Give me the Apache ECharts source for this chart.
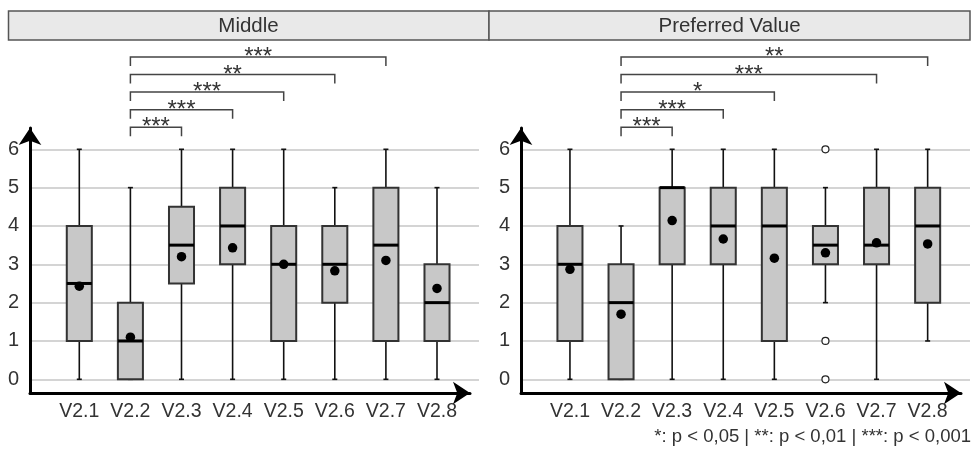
<!DOCTYPE html>
<html>
<head>
<meta charset="utf-8">
<script src="https://cdn.jsdelivr.net/npm/echarts@6/dist/echarts.min.js"></script>
<style>
html,body{margin:0;padding:0;background:#fff;}
#chart{width:974px;height:450px;}
</style>
</head>
<body>
<div id="chart"></div>
<script>
// ---- data ----
const categories = ['V2.1','V2.2','V2.3','V2.4','V2.5','V2.6','V2.7','V2.8'];
const yTicks = [0,1,2,3,4,5,6];
const panelTitles = ['Middle','Preferred Value'];

// [min, Q1, median, Q3, max]
const middleBox = [[0,1,2.5,4,6],[0,0,1,2,5],[0,2.5,3.5,4.5,6],[0,3,4,5,6],[0,1,3,4,6],[0,2,3,4,5],[0,1,3.5,5,6],[0,1,2,3,5]];
const middleMean = [2.43,1.10,3.20,3.43,3.00,2.83,3.10,2.37];
const middleOutliers = [];
// [fromIndex, toIndex, label]
const middleSig = [[1,2,'***'],[1,3,'***'],[1,4,'***'],[1,5,'**'],[1,6,'***']];

const prefBox = [[0,1,3,4,6],[0,0,2,3,4],[0,3,5,5,6],[0,3,4,5,6],[0,1,4,5,6],[2,3,3.5,4,5],[0,3,3.5,5,6],[1,2,4,5,6]];
const prefMean = [2.87,1.70,4.14,3.66,3.16,3.30,3.56,3.53];
const prefOutliers = [[5,6],[5,1],[5,0]];
const prefSig = [[1,2,'***'],[1,3,'***'],[1,4,'*'],[1,6,'***'],[1,7,'**']];

const footnote = '*: p < 0,05 | **: p < 0,01 | ***: p < 0,001';

// ---- layout ----
const FONT = 'Liberation Sans, Arial, sans-serif';
const TXT = '#333';
const plotTop = 149.3, plotH = 230;
const panels = [
  {dataLeft:53.75, bgLeft:30, axisRight:470, box:middleBox, mean:middleMean, out:middleOutliers, sig:middleSig},
  {dataLeft:544.4, bgLeft:521, axisRight:961, box:prefBox, mean:prefMean, out:prefOutliers, sig:prefSig}
];

const grid = [], xAxis = [], yAxis = [], series = [];

function renderBox(params, api){
  const x = api.value(0);
  const cx = api.coord([x, 0])[0];
  const yMin = api.coord([x, api.value(1)])[1];
  const yQ1 = api.coord([x, api.value(2)])[1];
  const yMed = api.coord([x, api.value(3)])[1];
  const yQ3 = api.coord([x, api.value(4)])[1];
  const yMax = api.coord([x, api.value(5)])[1];
  const bw = api.size([1, 0])[0] * 0.49;
  const cap = 2.5;
  const ws = {stroke:'#111', lineWidth:1.6};
  return {type:'group', children:[
    {type:'line', shape:{x1:cx,y1:yMax,x2:cx,y2:yQ3}, style:ws},
    {type:'line', shape:{x1:cx,y1:yQ1,x2:cx,y2:yMin}, style:ws},
    {type:'line', shape:{x1:cx-cap,y1:yMax,x2:cx+cap,y2:yMax}, style:ws},
    {type:'line', shape:{x1:cx-cap,y1:yMin,x2:cx+cap,y2:yMin}, style:ws},
    {type:'rect', shape:{x:cx-bw/2, y:yQ3, width:bw, height:yQ1-yQ3}, style:{fill:'#c8c8c8', stroke:'#333', lineWidth:2}},
    {type:'line', shape:{x1:cx-bw/2,y1:yMed,x2:cx+bw/2,y2:yMed}, style:{stroke:'#000', lineWidth:3}}
  ]};
}

function makeSigRenderer(sig){
  return function(params, api){
    const from = api.value(0), to = api.value(1), level = api.value(2);
    const p1 = api.coord([from, 6]);
    const p2 = api.coord([to, 6]);
    const y = p1[1] - 22 - level * 17.6;
    const st = {stroke:'#444', lineWidth:1.5, fill:null};
    return {type:'group', children:[
      {type:'polyline', shape:{points:[[p1[0], y+9],[p1[0], y],[p2[0], y],[p2[0], y+9]]}, style:st},
      {type:'text', x:(p1[0]+p2[0])/2, y:y+0.5, style:{text:sig[params.dataIndex][2], align:'center', verticalAlign:'middle', fontSize:24, fontFamily:FONT, fill:TXT}}
    ]};
  };
}

panels.forEach((p, i) => {
  const g = i * 3;
  grid.push({left:p.dataLeft, top:plotTop, width:408.8, height:plotH});
  grid.push({left:p.bgLeft, top:plotTop, width:449, height:plotH});
  grid.push({left:p.bgLeft, top:128, width:p.axisRight - p.bgLeft, height:265});

  xAxis.push({gridIndex:g, type:'category', data:categories, boundaryGap:true,
    axisLine:{show:false}, axisTick:{show:false},
    axisLabel:{interval:0, hideOverlap:false, fontSize:19.5, fontFamily:FONT, color:TXT, margin:22}});
  yAxis.push({gridIndex:g, type:'value', min:0, max:6, interval:1, show:false});

  xAxis.push({gridIndex:g+1, type:'value', show:false, min:0, max:1});
  yAxis.push({gridIndex:g+1, type:'value', min:0, max:6, interval:1,
    axisLine:{show:false}, axisTick:{show:false},
    axisLabel:{fontSize:20, fontFamily:FONT, color:TXT, margin:11,
      formatter: v => yTicks.indexOf(v) >= 0 ? String(v) : ''},
    splitLine:{show:true, lineStyle:{color:'#c6c6c6', width:1.5}}});

  xAxis.push({gridIndex:g+2, type:'value', min:0, max:1,
    axisLine:{show:true, onZero:false, symbol:['none','arrow'], symbolSize:[17,17], lineStyle:{color:'#000', width:3}},
    axisTick:{show:false}, axisLabel:{show:false}, splitLine:{show:false}});
  yAxis.push({gridIndex:g+2, type:'value', min:0, max:1,
    axisLine:{show:true, onZero:false, symbol:['none','arrow'], symbolSize:[17,17], lineStyle:{color:'#000', width:3}},
    axisTick:{show:false}, axisLabel:{show:false}, splitLine:{show:false}});

  series.push({type:'custom', xAxisIndex:g, yAxisIndex:g, renderItem:renderBox, clip:false, z:3,
    encode:{x:0, y:[1,2,3,4,5]},
    data:p.box.map((b, k) => [k, b[0], b[1], b[2], b[3], b[4]])});
  series.push({type:'scatter', xAxisIndex:g, yAxisIndex:g, symbol:'circle', symbolSize:9.5, z:5,
    itemStyle:{color:'#000', opacity:1},
    data:p.mean.map((m, k) => [k, m])});
  if (p.out.length) {
    series.push({type:'scatter', xAxisIndex:g, yAxisIndex:g, symbol:'circle', symbolSize:7, z:5,
      itemStyle:{color:'#fff', borderColor:'#222', borderWidth:1.2, opacity:1},
      data:p.out});
  }
  series.push({type:'custom', xAxisIndex:g, yAxisIndex:g, renderItem:makeSigRenderer(p.sig), clip:false, z:4,
    encode:{x:[0,1]},
    data:p.sig.map((s, k) => [s[0], s[1], k])});
});

const graphic = [
  {type:'rect', shape:{x:8.5, y:11, width:480.5, height:29}, style:{fill:'#e9e9e9', stroke:'#555', lineWidth:1.5}, z:1},
  {type:'rect', shape:{x:489, y:11, width:481, height:29}, style:{fill:'#e9e9e9', stroke:'#555', lineWidth:1.5}, z:1},
  {type:'text', x:248.5, y:26, style:{text:panelTitles[0], align:'center', verticalAlign:'middle', fontSize:20.5, fontFamily:FONT, fill:TXT}, z:2},
  {type:'text', x:729.5, y:26, style:{text:panelTitles[1], align:'center', verticalAlign:'middle', fontSize:20.5, fontFamily:FONT, fill:TXT}, z:2},
  {type:'text', x:971, y:437, style:{text:footnote, align:'right', verticalAlign:'middle', fontSize:18.5, fontFamily:FONT, fill:TXT}, z:2}
];

const chart = echarts.init(document.getElementById('chart'), null, {renderer:'canvas'});
chart.setOption({animation:false, backgroundColor:'#fff', grid, xAxis, yAxis, series, graphic});
</script>
</body>
</html>
